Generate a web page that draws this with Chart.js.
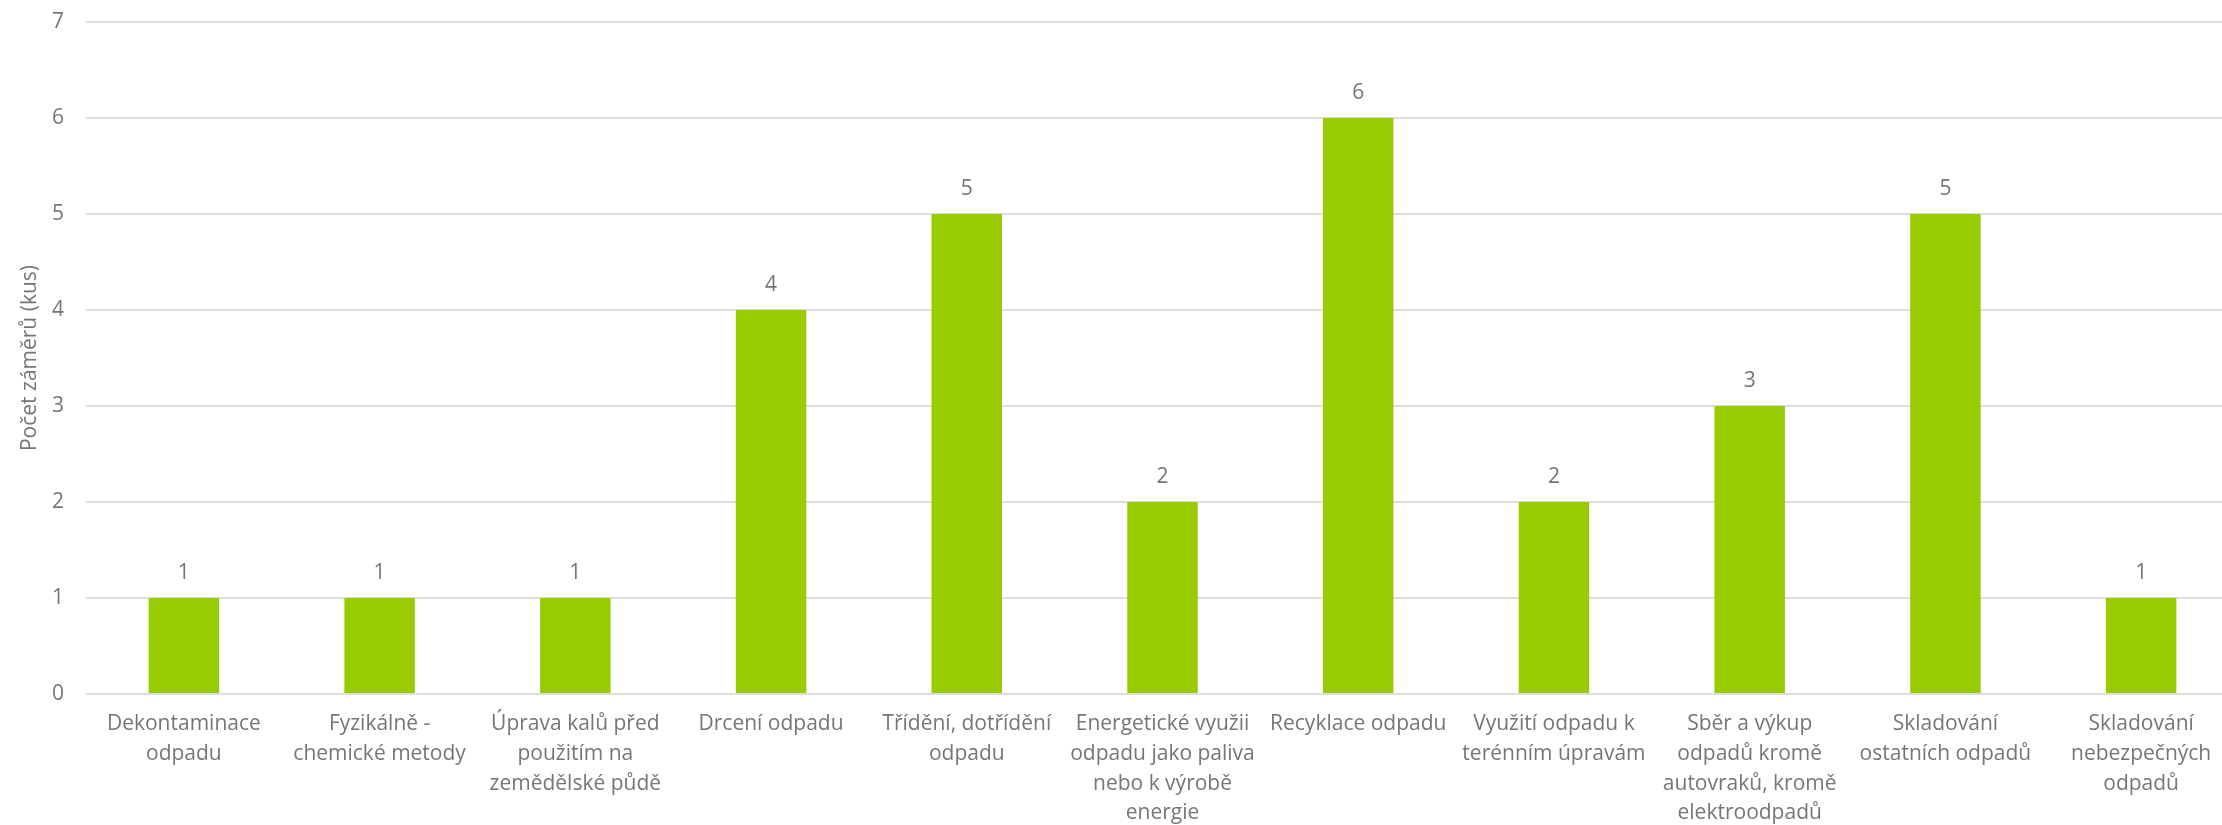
<!DOCTYPE html>
<html>
<head>
<meta charset="utf-8">
<script src="https://cdn.jsdelivr.net/npm/chart.js@4/dist/chart.umd.min.js"></script>
<style>
    html, body { margin: 0; padding: 0; background: #fff; overflow: hidden; }
    #wrap { width: 2239px; height: 825px; }
</style>
</head>
<body>
<div id="wrap"><canvas id="barChart"></canvas></div>
<script>
const categories = [
    ["Dekontaminace", "odpadu"],
    ["Fyzikálně -", "chemické metody"],
    ["Úprava kalů před", "použitím na", "zemědělské půdě"],
    ["Drcení odpadu"],
    ["Třídění, dotřídění", "odpadu"],
    ["Energetické využii", "odpadu jako paliva", "nebo k výrobě", "energie"],
    ["Recyklace odpadu"],
    ["Využití odpadu k", "terénním úpravám"],
    ["Sběr a výkup", "odpadů kromě", "autovraků, kromě", "elektroodpadů"],
    ["Skladování", "ostatních odpadů"],
    ["Skladování", "nebezpečných", "odpadů"]
];
const counts = [1, 1, 1, 4, 5, 2, 6, 2, 3, 5, 1];
const yTicks = [0, 1, 2, 3, 4, 5, 6, 7];
const yTitle = "Počet záměrů (kus)";

const textColor = "#767676";
const fontFamily = "'Open Sans', sans-serif";

// value labels above the bars
const valueLabels = {
    id: "valueLabels",
    afterDatasetsDraw(chart) {
        const ctx = chart.ctx;
        const meta = chart.getDatasetMeta(0);
        ctx.save();
        ctx.font = "21px " + fontFamily;
        ctx.fillStyle = textColor;
        ctx.textAlign = "center";
        ctx.textBaseline = "middle";
        meta.data.forEach((bar, i) => {
            ctx.fillText(String(counts[i]), bar.x, bar.y - 25);
        });
        ctx.restore();
    }
};

new Chart(document.getElementById("barChart").getContext("2d"), {
    type: "bar",
    data: {
        labels: categories,
        datasets: [{
            label: yTitle,
            data: counts,
            backgroundColor: "#99cc00",
            barPercentage: 0.36,
            categoryPercentage: 1
        }]
    },
    options: {
        responsive: true,
        maintainAspectRatio: false,
        animation: false,
        layout: { padding: 0 },
        plugins: {
            legend: { display: false },
            tooltip: { enabled: false }
        },
        scales: {
            x: {
                grid: { display: false, drawTicks: false },
                border: { display: false },
                ticks: {
                    color: textColor,
                    font: { family: fontFamily, size: 21, lineHeight: 1.42 },
                    padding: 15,
                    maxRotation: 0,
                    autoSkip: false
                },
                afterFit(scale) { scale.height = 131; }
            },
            y: {
                min: 0,
                max: 7,
                afterBuildTicks(scale) { scale.ticks = yTicks.map(v => ({ value: v })); },
                grid: { color: "#dedede", lineWidth: 2, drawTicks: false },
                border: { display: false },
                ticks: {
                    color: textColor,
                    // lineHeight 0 keeps the top gridline close to the canvas edge
                    font: { family: fontFamily, size: 21, lineHeight: 0 },
                    padding: 22
                },
                title: {
                    display: true,
                    text: yTitle,
                    color: textColor,
                    font: { family: fontFamily, size: 21 },
                    padding: { top: 17, bottom: 0 }
                },
                afterFit(scale) { scale.width = 86; }
            }
        }
    },
    plugins: [valueLabels]
});
</script>
</body>
</html>
